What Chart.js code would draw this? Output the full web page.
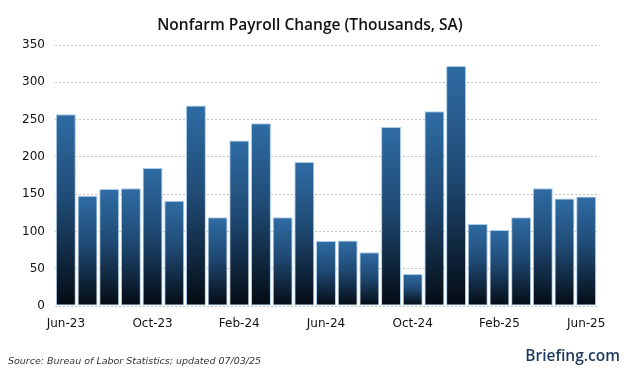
<!DOCTYPE html>
<html><head><meta charset="utf-8">
<script src="https://cdn.jsdelivr.net/npm/chart.js@4/dist/chart.umd.min.js"></script>
<style>html,body{margin:0;padding:0;background:#fff}#wrap{width:624px;height:379px}</style>
</head><body><div id="wrap"><canvas id="c" width="624" height="379"></canvas></div>
<script>
const months = ["Jun-23","Jul-23","Aug-23","Sep-23","Oct-23","Nov-23","Dec-23","Jan-24","Feb-24","Mar-24","Apr-24","May-24","Jun-24","Jul-24","Aug-24","Sep-24","Oct-24","Nov-24","Dec-24","Jan-25","Feb-25","Mar-25","Apr-25","May-25","Jun-25"];
const payrollChange = [257,148,157,158,185,141,269,119,222,245,119,193,87,88,72,240,43,261,322,110,102,119,158,144,147];
const shownTickLabels = ["Jun-23","Oct-23","Feb-24","Jun-24","Oct-24","Feb-25","Jun-25"];
const yTicks = [0,50,100,150,200,250,300,350];
const titleText = "Nonfarm Payroll Change (Thousands, SA)";
const sourceText = "Source: Bureau of Labor Statistics; updated 07/03/25";
const brandText = "Briefing.com";

function barGradient(ctx){
  const chart = ctx.chart;
  const ys = chart.scales && chart.scales.y;
  if(!ys || !chart.chartArea || ctx.raw === undefined) return '#2f6ca3';
  const top = ys.getPixelForValue(ctx.raw);
  const base = ys.getPixelForValue(0);
  if(!isFinite(top) || !isFinite(base) || base-top < 1) return '#2f6ca3';
  const g = chart.ctx.createLinearGradient(0, top, 0, base);
  g.addColorStop(0, '#2f6ca4');
  g.addColorStop(0.45, '#1f4a74');
  g.addColorStop(1, '#040b13');
  return g;
}

const texts = {
  id:'texts',
  afterDraw(chart){
    const c = chart.ctx;
    c.save();
    c.fillStyle = '#111';
    c.font = '600 15.5px "Open Sans"';
    c.textBaseline = 'alphabetic';
    c.textAlign = 'center';
    c.fillText(titleText, 310, 30);
    c.fillStyle = '#333';
    c.font = 'italic 9.5px "DejaVu Sans"';
    c.textBaseline = 'middle';
    c.textAlign = 'left';
    c.fillText(sourceText, 8, 362);
    c.fillStyle = '#1d3a5e';
    c.font = '600 15.5px "Open Sans"';
    c.textAlign = 'right';
    c.fillText(brandText, 620, 357);
    c.restore();
  }
};

new Chart(document.getElementById('c'), {
  type:'bar',
  data:{ labels: months, datasets:[{
    data: payrollChange,
    backgroundColor: barGradient,
    borderColor: '#a9cdec',
    borderWidth: 1,
    borderSkipped: false,
    barPercentage: 0.92,
    categoryPercentage: 1.0
  }]},
  options:{
    responsive:false, animation:false,
    devicePixelRatio:1,
    layout:{ padding:{ left:0, right:27, top:45, bottom:48 } },
    plugins:{
      legend:{display:false}, tooltip:{enabled:false}, title:{display:false}
    },
    scales:{
      x:{
        grid:{ display:false },
        border:{ display:false },
        afterFit(s){ s.height = 25; },
        ticks:{ autoSkip:false, maxRotation:0, color:'#111',
          font:{ family:'"DejaVu Sans"', size:12 },
          padding:3,
          callback(v){ const l = months[v]; return shownTickLabels.includes(l) ? l : null; } }
      },
      y:{
        min:0, max:350,
        afterFit(s){ s.width = 55; },
        afterBuildTicks(s){ s.ticks = yTicks.map(v=>({value:v})); },
        grid:{ color:'#c4c4c4', lineWidth:1, drawTicks:false },
        border:{ display:false, dash:[2,2] },
        ticks:{ color:'#111', padding:10, font:{ family:'"DejaVu Sans"', size:12 } }
      }
    }
  },
  plugins:[texts]
});
</script></body></html>
